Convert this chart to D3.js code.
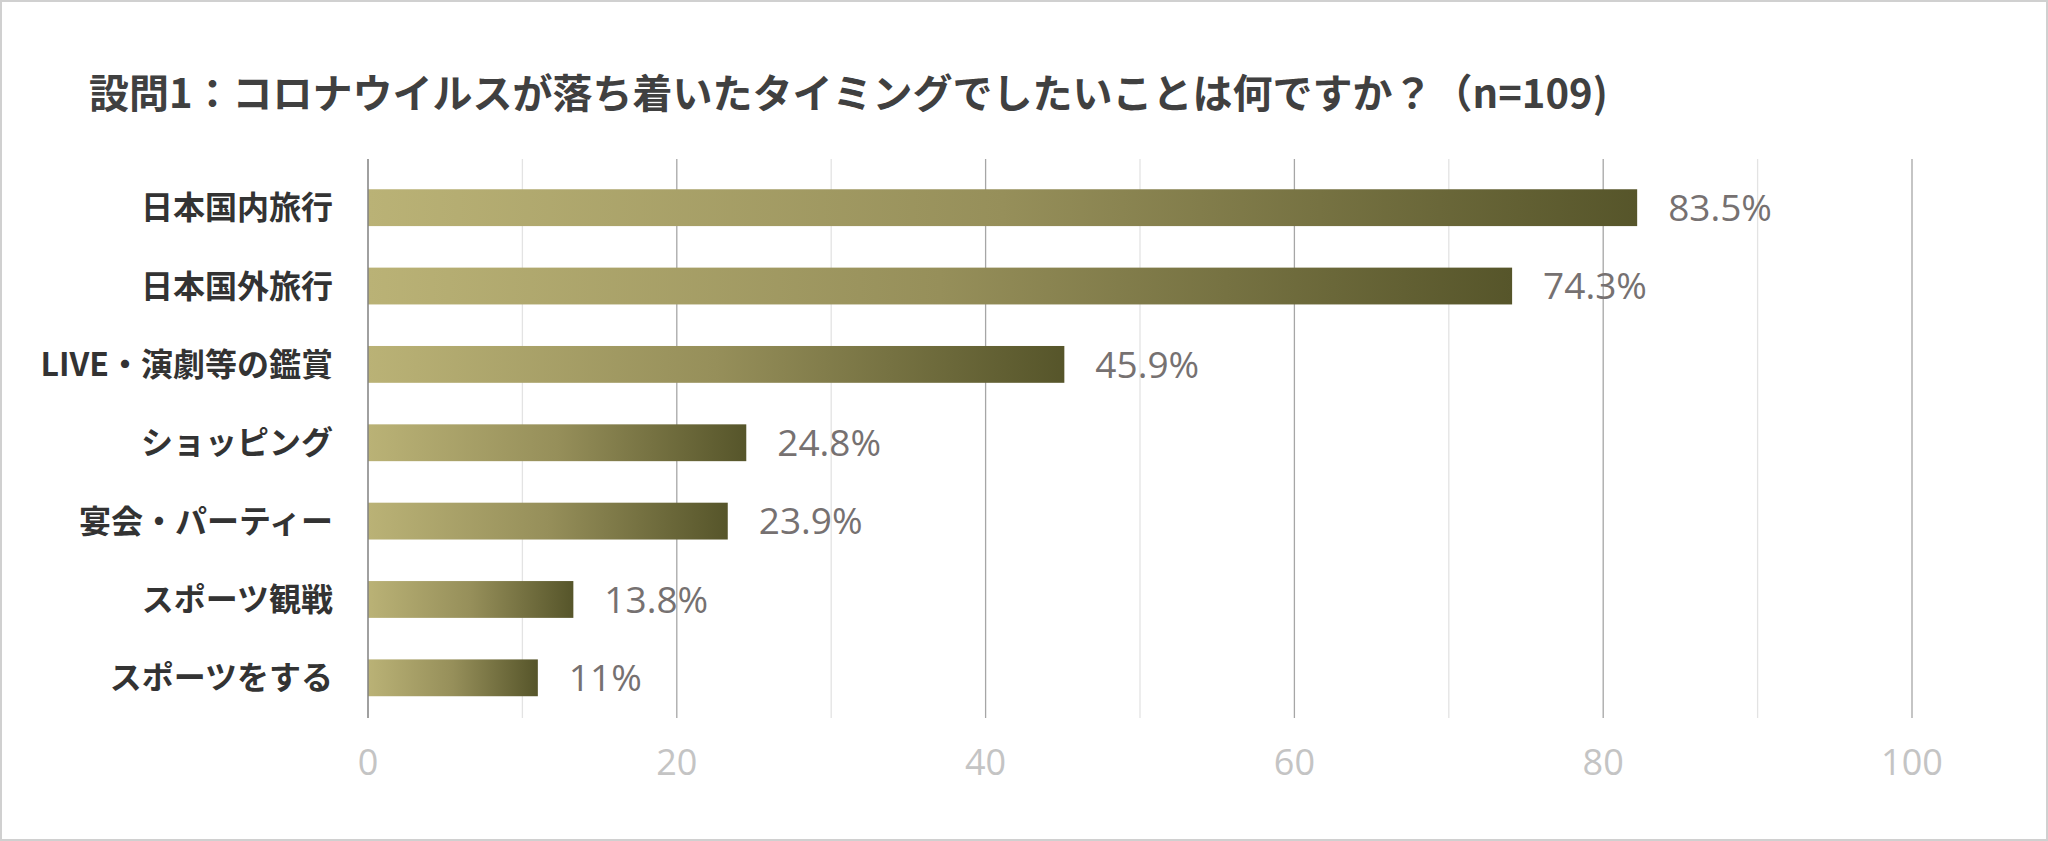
<!DOCTYPE html>
<html><head><meta charset="utf-8">
<script src="https://cdn.jsdelivr.net/npm/d3@7"></script>
<style>body{margin:0;background:#fff}svg{display:block}</style></head>
<body><svg id="c" width="2048" height="841"></svg>
<script>
const categories = ["日本国内旅行","日本国外旅行","LIVE・演劇等の鑑賞","ショッピング","宴会・パーティー","スポーツ観戦","スポーツをする"];
const values = [82.2, 74.1, 45.1, 24.5, 23.3, 13.3, 11.0];
const valueLabels = ["83.5%","74.3%","45.9%","24.8%","23.9%","13.8%","11%"];
const ticks = [0,20,40,60,80,100];
const minorTicks = [10,30,50,70,90];
const title = "設問1：コロナウイルスが落ち着いたタイミングでしたいことは何ですか？（n=109)";

const svg = d3.select("#c");
const font = "'Noto Sans CJK JP','Noto Sans',sans-serif";
svg.append("rect").attr("x",1).attr("y",1).attr("width",2046).attr("height",839).attr("fill","#fff").attr("stroke","#d0d0d0").attr("stroke-width",2);
svg.append("text").attr("x",89).attr("y",94).attr("dy","0.36em").attr("font-family",font).attr("font-weight","bold").attr("font-size",40).attr("fill","#404040").text(title);

const x = d3.scaleLinear().domain([0,100]).range([368,1912]);
const y = d3.scaleBand().domain(categories).range([168.5,717]).paddingInner(0.53).paddingOuter(0.265);

const defs = svg.append("defs");
const g = defs.append("linearGradient").attr("id","grad").attr("x1","0").attr("x2","1").attr("y1","0").attr("y2","0");
g.append("stop").attr("offset","0").attr("stop-color","#bab276");
g.append("stop").attr("offset","0.5").attr("stop-color","#968f5a");
g.append("stop").attr("offset","1").attr("stop-color","#56552a");

svg.append("g").selectAll("line").data(minorTicks).join("line")
 .attr("x1",d=>x(d)).attr("x2",d=>x(d)).attr("y1",159).attr("y2",718).attr("stroke","#e3e3e3").attr("stroke-width",1.3);
svg.append("g").selectAll("line").data(ticks.slice(1)).join("line")
 .attr("x1",d=>x(d)).attr("x2",d=>x(d)).attr("y1",159).attr("y2",718).attr("stroke","#a6a6a6").attr("stroke-width",1.3);

svg.append("g").selectAll("rect").data(values).join("rect")
 .attr("x",x(0)).attr("y",(d,i)=>y(categories[i])).attr("width",d=>x(d)-x(0)).attr("height",y.bandwidth()).attr("fill","url(#grad)");

svg.append("line").attr("x1",x(0)).attr("x2",x(0)).attr("y1",159).attr("y2",718).attr("stroke","#808080").attr("stroke-width",1.5);

svg.append("g").selectAll("text").data(values).join("text")
 .attr("x",d=>x(d)+31).attr("y",(d,i)=>y(categories[i])+y.bandwidth()/2).attr("dy","0.36em")
 .attr("font-family","'Open Sans','Noto Sans',sans-serif").attr("font-size",37).attr("fill","#767171").text((d,i)=>valueLabels[i]);

svg.append("g").selectAll("text").data(categories).join("text")
 .attr("x",333).attr("y",d=>y(d)+y.bandwidth()/2).attr("dy","0.36em").attr("text-anchor","end")
 .attr("font-family",font).attr("font-weight","bold").attr("font-size",32).attr("fill","#333").text(d=>d);

svg.append("g").selectAll("text").data(ticks).join("text")
 .attr("x",d=>x(d)).attr("y",762).attr("dy","0.36em").attr("text-anchor","middle")
 .attr("font-family","'Open Sans','Noto Sans',sans-serif").attr("font-size",36).attr("fill","#c4c4c4").text(d=>d);
</script></body></html>
